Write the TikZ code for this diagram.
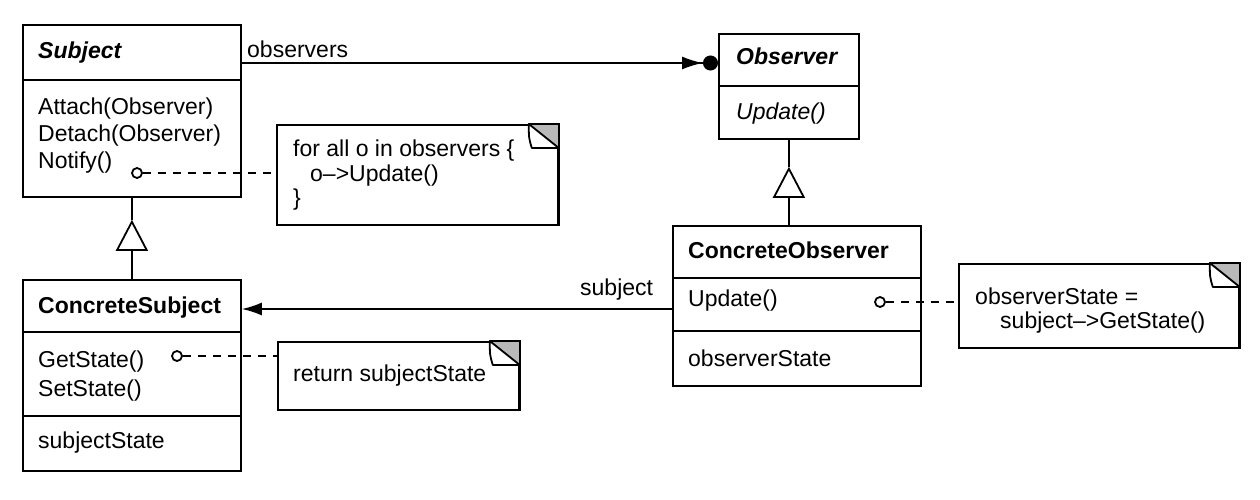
\documentclass[tikz,border=0pt]{standalone}
\usepackage{fontspec}
\setmainfont{Liberation Sans}
\usetikzlibrary{arrows.meta}
\newcommand\noteear[1]{%
  \fill[gray!55] ([xshift=-30pt]#1.north east) -- (#1.north east) -- ([yshift=-24pt]#1.north east) -- cycle;
  \draw[line width=1.8pt, fill=white, line join=round]
    ([xshift=-30pt]#1.north east) .. controls ([xshift=-30pt,yshift=-14pt]#1.north east) .. ([xshift=-27pt,yshift=-24pt]#1.north east)
    -- ([yshift=-24pt]#1.north east) -- cycle;
  \draw[line width=1.8pt] ([xshift=-30pt]#1.north east) -- (#1.north east) -- (#1.south east);
}
\begin{document}
\begin{tikzpicture}[x=1pt,y=-1pt,
  cls/.style={draw, line width=1.8pt, rectangle, anchor=north west, inner sep=0pt},
  notebox/.style={draw, line width=1.8pt, rectangle, anchor=north west, inner sep=0pt},
  sepline/.style={line width=1.8pt},
  txt/.style={anchor=base west, inner sep=0pt, font=\fontsize{23}{28}\selectfont},
  dotc/.style={draw, circle, line width=1.8pt, minimum size=10pt, inner sep=0pt},
  notelink/.style={line width=1.4pt, dash pattern=on 8pt off 7pt},
  gen/.style={line width=1.8pt, -{Triangle[open, length=31pt, width=32pt]}},
  assoc/.style={line width=1.8pt, -{Latex[length=20pt, width=13pt]}},
  multi/.style={line width=1.8pt, -{Latex[length=21pt, width=13pt] Circle[length=15pt]}}
]
\useasboundingbox (0,0) rectangle (1260,500);

% classes
\node[cls, minimum width=218pt, minimum height=172pt] (subj) at (22,24) {};
\draw[sepline] ([yshift=-56pt]subj.north west) -- ([yshift=-56pt]subj.north east);
\node[txt] (subjname) at (38,59) {\bfseries\itshape Subject};
\node[txt] (subjop1) at (38,115) {Attach(Observer)};
\node[txt] (subjop2) at (38,142) {Detach(Observer)};
\node[txt] (subjop3) at (38,168) {Notify()};

\node[cls, minimum width=218pt, minimum height=191pt] (csubj) at (22,279) {};
\draw[sepline] ([yshift=-53pt]csubj.north west) -- ([yshift=-53pt]csubj.north east);
\draw[sepline] ([yshift=-137pt]csubj.north west) -- ([yshift=-137pt]csubj.north east);
\node[txt] (csubjname) at (38,313) {\bfseries ConcreteSubject};
\node[txt] (csubjop1) at (38,367) {GetState()};
\node[txt] (csubjop2) at (38,396) {SetState()};
\node[txt] (csubjat1) at (38,448) {subjectState};

\node[cls, minimum width=140pt, minimum height=105pt] (obs) at (718,33) {};
\draw[sepline] ([yshift=-53pt]obs.north west) -- ([yshift=-53pt]obs.north east);
\node[txt] (obsname) at (736,65) {\bfseries\itshape Observer};
\node[txt] (obsop1) at (736,120) {\itshape Update()};

\node[cls, minimum width=248pt, minimum height=160pt] (cobs) at (672,225) {};
\draw[sepline] ([yshift=-53pt]cobs.north west) -- ([yshift=-53pt]cobs.north east);
\draw[sepline] ([yshift=-106pt]cobs.north west) -- ([yshift=-106pt]cobs.north east);
\node[txt] (cobsname) at (688,258) {\bfseries ConcreteObserver};
\node[txt] (cobsop1) at (688,306) {Update()};
\node[txt] (cobsat1) at (688,366) {observerState};

% notes
\node[notebox, minimum width=281pt, minimum height=100pt] (n1) at (276,124) {};
\noteear{n1}
\node[txt] (n1a) at (293,157) {for all o in observers \{};
\node[txt] (n1b) at (310,181) {o\textendash>Update()};
\node[txt] (n1c) at (293,205) {\}};

\node[notebox, minimum width=241pt, minimum height=68pt] (n2) at (277,341) {};
\noteear{n2}
\node[txt] (n2a) at (293,381) {return subjectState};

\node[notebox, minimum width=280pt, minimum height=84pt] (n3) at (958,263) {};
\noteear{n3}
\node[txt] (n3a) at (975,304) {observerState =};
\node[txt] (n3b) at (1000,328) {subject\textendash>GetState()};

% note links
\node[dotc] (c1) at (137,173) {};
\draw[notelink] (c1) -- (c1 -| n1.west);
\node[dotc] (c2) at (177,356) {};
\draw[notelink] (c2) -- (c2 -| n2.west);
\node[dotc] (c3) at (880,302) {};
\draw[notelink] (c3) -- (c3 -| n3.west);

% generalizations
\coordinate (apex1) at ([yshift=-22pt]subj.south);
\draw[line width=1.8pt] (subj.south) -- (apex1);
\draw[gen] (csubj.north) -- (apex1);
\coordinate (apex2) at ([yshift=-27pt]obs.south);
\draw[line width=1.8pt] (obs.south) -- (apex2);
\draw[gen] (obs.south |- cobs.north) -- (apex2);

% associations
\draw[multi] ([yshift=-39pt]subj.north east) -- ([yshift=-30pt]obs.north west);
\node[txt] (lobs) at (247,58) {observers};
\draw[assoc] ([yshift=-84pt]cobs.north west) -- ([yshift=-30pt]csubj.north east);
\node[txt] (lsubj) at (580,295) {subject};
\end{tikzpicture}
\end{document}
